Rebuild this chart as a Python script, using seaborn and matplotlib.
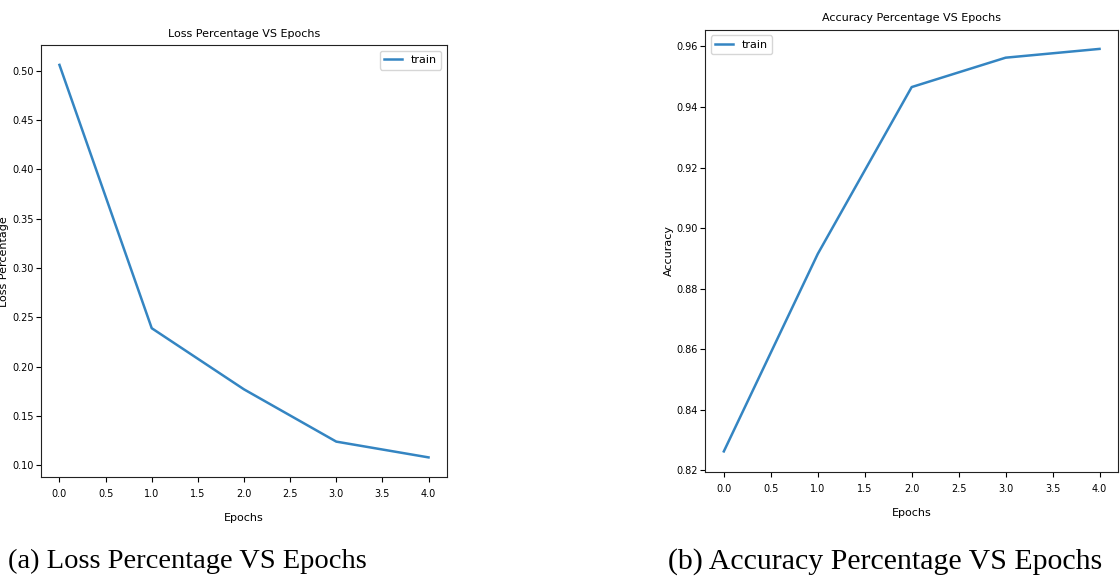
import numpy as np
import pandas as pd
import matplotlib
matplotlib.use("Agg")
import matplotlib.pyplot as plt
import seaborn as sns

# Số liệu
epochs = [0, 1, 2, 3, 4]
loss = [0.506, 0.239, 0.177, 0.124, 0.108]
accuracy = [0.8263, 0.8915, 0.9466, 0.9563, 0.9592]

line_color = "#3485c2"

df = pd.DataFrame({"Epochs": epochs, "loss": loss, "accuracy": accuracy})

fig = plt.figure(figsize=(11.2, 5.78), dpi=100)
ax1 = fig.add_axes([0.0366, 0.1747, 0.3625, 0.747])
ax2 = fig.add_axes([0.6295, 0.1834, 0.369, 0.765])

# biểu đồ loss
sns.lineplot(data=df, x="Epochs", y="loss", ax=ax1, color=line_color, linewidth=1.8, label="train")
ax1.set_title("Loss Percentage VS Epochs", fontsize=8)
ax1.set_ylabel("Loss Percentage", fontsize=8)
ax1.legend(loc="upper right", fontsize=8, handlelength=1.6)

# biểu đồ accuracy
sns.lineplot(data=df, x="Epochs", y="accuracy", ax=ax2, color=line_color, linewidth=1.8, label="train")
ax2.set_title("Accuracy Percentage VS Epochs", fontsize=8)
ax2.set_ylabel("Accuracy", fontsize=8)
ax2.legend(loc="upper left", fontsize=8, handlelength=1.6)
ax2.set_ylim(0.8195, 0.9655)

for ax in (ax1, ax2):
    ax.set_xticks(np.arange(0, 4.5, 0.5))
    ax.set_xlabel("Epochs", fontsize=8, labelpad=10)
    ax.tick_params(labelsize=7, length=3.5, width=0.8, pad=1.5)
    ax.tick_params(axis="x", pad=5)
    for s in ax.spines.values():
        s.set_color("#222222")

ax1.yaxis.set_label_coords(-0.079, 0.5)
ax2.yaxis.set_label_coords(-0.075, 0.5)

# chú thích dưới hình
fig.text(0.007, 0.028, "(a) Loss Percentage VS Epochs", family="Liberation Serif", fontsize=20.5, va="center")
fig.text(0.596, 0.028, "(b) Accuracy Percentage VS Epochs", family="Liberation Serif", fontsize=21.5, va="center")

fig.savefig("out.png", dpi=100)
